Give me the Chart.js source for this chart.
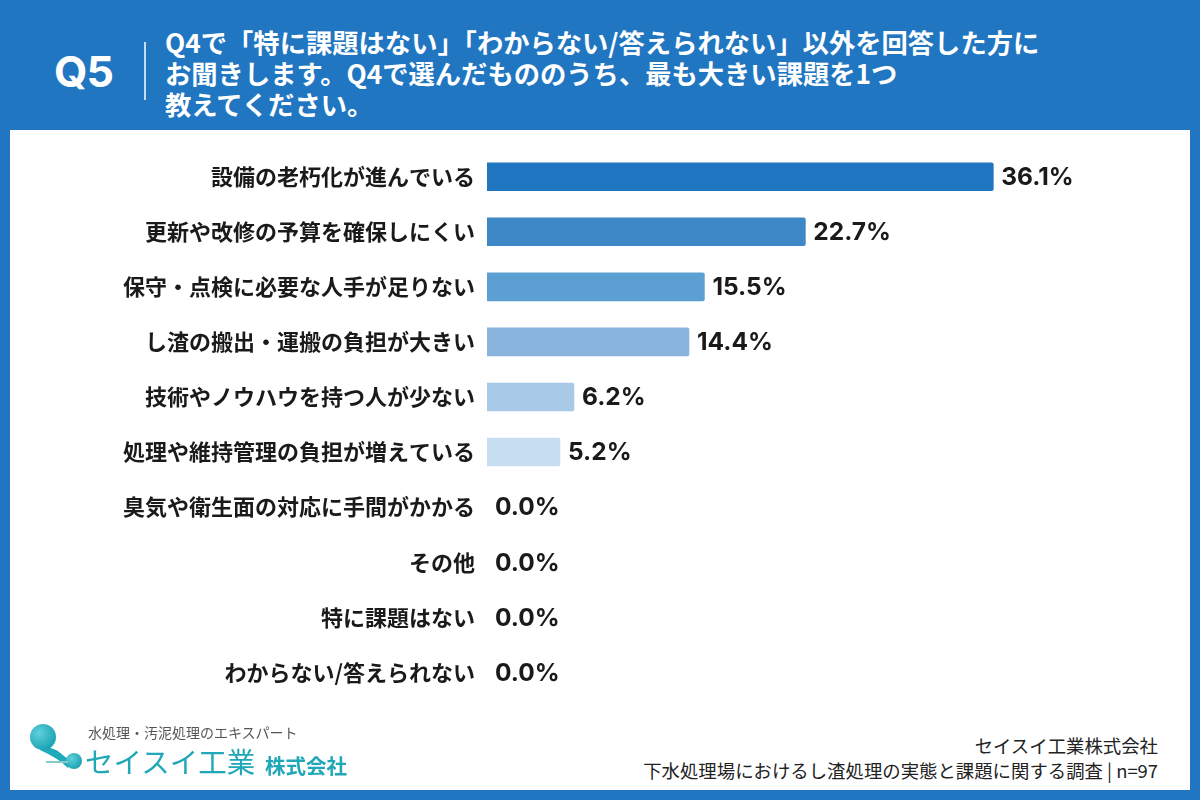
<!DOCTYPE html>
<html><head><meta charset="utf-8">
<script src="https://cdn.jsdelivr.net/npm/chart.js@4.4.1/dist/chart.umd.min.js"></script>
<style>
html,body{margin:0;padding:0;}
body{width:1200px;height:800px;background:#2176c1;position:relative;overflow:hidden;font-family:"Noto Sans CJK JP","Noto Sans",sans-serif;}
#panel{position:absolute;left:10px;top:130px;width:1180px;height:660px;background:#fff;}
#q{position:absolute;left:54px;top:45px;color:#fff;font:bold 43px "Inter","Roboto",sans-serif;letter-spacing:-1px;}
#vline{position:absolute;left:144px;top:42px;width:2px;height:58px;background:rgba(255,255,255,0.75);}
#title{position:absolute;left:165px;top:26px;color:#fff;font-weight:bold;font-size:26.3px;line-height:31px;white-space:pre;}
#wrap{position:absolute;left:10px;top:124px;width:1180px;height:601px;}
#sub{position:absolute;left:88px;top:722px;font-size:14px;color:#555;}
#brand{position:absolute;left:85px;top:741px;font-size:28.5px;color:#21a8b8;line-height:40px;}
#brand2{position:absolute;left:265px;top:751px;font-size:20.5px;font-weight:bold;color:#21a8b8;line-height:28px;}
#foot{position:absolute;right:42px;top:733px;text-align:right;font-size:18.4px;color:#222;line-height:25px;}
#logo{position:absolute;left:20px;top:718px;}
</style></head>
<body>
<div id="q">Q5</div>
<div id="vline"></div>
<div id="title">Q4で「特に課題はない」「わからない/答えられない」以外を回答した方に
お聞きします。Q4で選んだもののうち、最も大きい課題を1つ
教えてください。</div>
<div id="panel"></div>
<div id="wrap"><canvas id="c"></canvas></div>
<svg id="logo" width="70" height="60" viewBox="0 0 70 60">
  <defs><radialGradient id="g" cx="0.35" cy="0.35" r="0.7"><stop offset="0" stop-color="#5fd0dc"/><stop offset="1" stop-color="#1aa2b2"/></radialGradient></defs>
  <path d="M23 28 Q36 30 44 38 L52 44 L48 50 Q38 40 20 32 Z" fill="#1eaab9"/>
  <circle cx="23" cy="19" r="13" fill="url(#g)"/>
  <circle cx="54" cy="43" r="8" fill="url(#g)"/>
  <line x1="26" y1="44" x2="48" y2="44" stroke="#8cc9c9" stroke-width="2"/>
</svg>
<div id="sub">水処理・汚泥処理のエキスパート</div>
<div id="brand">セイスイ工業</div>
<div id="brand2">株式会社</div>
<div id="foot">セイスイ工業株式会社<br>下水処理場におけるし渣処理の実態と課題に関する調査 | n=97</div>
<script>
const categories = [
  "設備の老朽化が進んでいる",
  "更新や改修の予算を確保しにくい",
  "保守・点検に必要な人手が足りない",
  "し渣の搬出・運搬の負担が大きい",
  "技術やノウハウを持つ人が少ない",
  "処理や維持管理の負担が増えている",
  "臭気や衛生面の対応に手間がかかる",
  "その他",
  "特に課題はない",
  "わからない/答えられない"
];
const values = [36.1, 22.7, 15.5, 14.4, 6.2, 5.2, 0.0, 0.0, 0.0, 0.0];
const barColors = ["#2176c1","#3f88c8","#5c9fd2","#88b4dd","#a9c9e9","#c7ddf1","rgba(0,0,0,0)","rgba(0,0,0,0)","rgba(0,0,0,0)","rgba(0,0,0,0)"];

const valueLabels = {
  id: 'valueLabels',
  afterDatasetsDraw(chart) {
    const ctx = chart.ctx;
    const meta = chart.getDatasetMeta(0);
    ctx.save();
    ctx.font = 'bold 24.5px "Inter","Roboto",sans-serif';
    ctx.fillStyle = '#1a1a1a';
    ctx.textBaseline = 'middle';
    ctx.textAlign = 'left';
    meta.data.forEach((bar, i) => {
      ctx.fillText(values[i].toFixed(1) + '%', bar.x + 8, bar.y + 1);
    });
    ctx.restore();
  }
};

new Chart(document.getElementById('c'), {
  type: 'bar',
  data: { labels: categories, datasets: [{ data: values, backgroundColor: barColors, barThickness: 28, borderRadius: 2, borderSkipped: 'start' }] },
  options: {
    indexAxis: 'y',
    responsive: true,
    maintainAspectRatio: false,
    animation: false,
    layout: { padding: { top: 0, bottom: 0, right: 142, left: 0 } },
    plugins: { legend: { display: false }, tooltip: { enabled: false } },
    scales: {
      x: { min: 0, max: 40, display: false },
      y: {
        afterFit: s => { s.width = 477; },
        grid: { display: false, drawTicks: false },
        border: { display: false },
        ticks: { padding: 12, color: '#1a1a1a', font: { family: '"Noto Sans CJK JP"', size: 22, weight: 'bold' } }
      }
    }
  },
  plugins: [valueLabels]
});
</script>
</body></html>
